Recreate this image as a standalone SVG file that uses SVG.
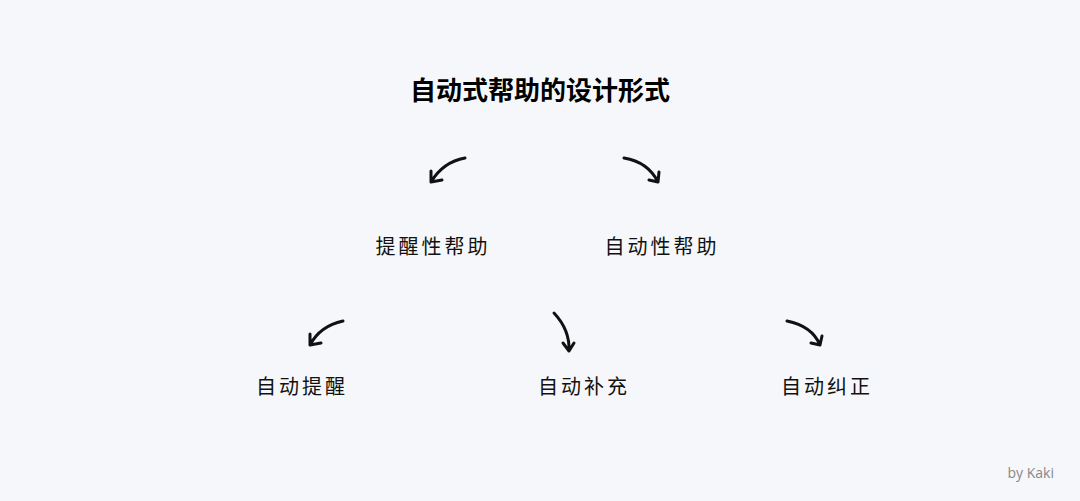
<svg xmlns="http://www.w3.org/2000/svg" width="1080" height="501" viewBox="0 0 1080 501">
<style>
.t{font-family:"Noto Sans CJK SC",sans-serif;font-size:20px;fill:#111;letter-spacing:3px}
.a{fill:none;stroke:#111;stroke-width:3;stroke-linecap:round;stroke-linejoin:round}
</style>
<rect width="1080" height="501" fill="#f6f7fb"/>
<text x="540" y="100" text-anchor="middle" font-family="'Noto Sans CJK SC',sans-serif" font-size="26" font-weight="bold" fill="#000">自动式帮助的设计形式</text>
<g id="n1"><text class="t" x="433" y="254" text-anchor="middle">提醒性帮助</text></g>
<g id="n2"><text class="t" x="662" y="254" text-anchor="middle">自动性帮助</text></g>
<g id="n3"><text class="t" x="302" y="394" text-anchor="middle">自动提醒</text></g>
<g id="n4"><text class="t" x="584" y="394" text-anchor="middle">自动补充</text></g>
<g id="n5"><text class="t" x="827" y="394" text-anchor="middle">自动纠正</text></g>
<g id="connectors">
<path class="a" d="M465 158 Q443 162 431 182 M431 171 L431 182 L442 180"/>
<path class="a" d="M624 158 Q648 162 658 182 M649 180 L658 182 L659 172"/>
<path class="a" d="M343 321 Q320 326 310 345 M310 334 L310 345 L321 343"/>
<path class="a" d="M554 313 Q570 330 569 351 M563 343 L569 351 L574 343"/>
<path class="a" d="M787 321 Q812 326 820 345 M811 343 L820 345 L822 336"/>
</g>
<text x="1054" y="478" text-anchor="end" font-family="'Open Sans',sans-serif" font-size="14" fill="#888">by Kaki</text>
</svg>
